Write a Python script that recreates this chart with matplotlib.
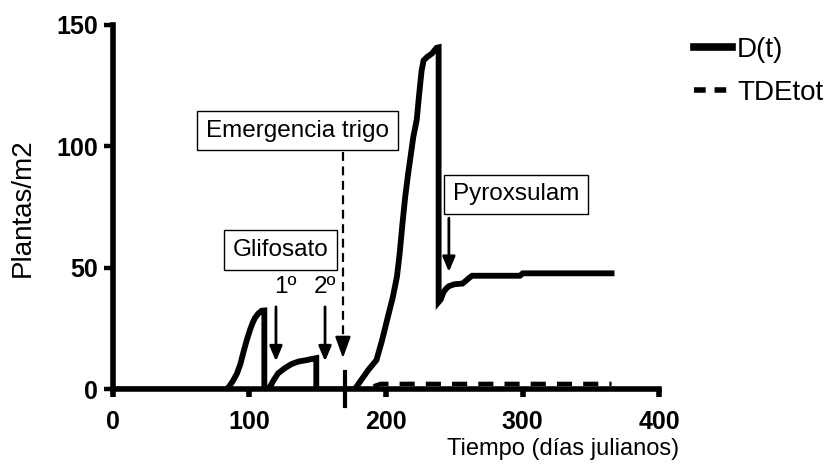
import matplotlib
matplotlib.use('Agg')
import matplotlib.pyplot as plt
from matplotlib.lines import Line2D

plt.rcParams['font.family'] = ['Liberation Sans', 'DejaVu Sans']

# D(t): plantas/m2 over julian days
d_days = [0, 83, 85, 88, 91, 93.5, 95.5, 98, 100.5, 102.5, 104, 106.5, 109, 111, 111,
          114, 115, 118, 121, 126, 131, 136, 142, 146, 149, 149,
          177, 182, 187, 193, 197, 202, 205, 208, 210, 212, 214, 216, 218, 220,
          222.5, 224, 226, 227.5, 230, 233.5, 237, 238.5, 238.5,
          240, 242, 244, 246, 250, 256, 259, 261, 263, 298, 300, 365]
d_vals = [0, 0, 1, 3.5, 6.6, 10.5, 14.9, 20, 24.5, 27.5, 29.3, 31.2, 32.4, 32.5, 0,
          0.3, 1, 4, 6.6, 8.8, 10.5, 11.5, 12.1, 12.6, 12.9, 0,
          0, 4, 8, 12.1, 20, 31.3, 38, 46.4, 56, 68, 79, 88, 96, 104,
          111, 120, 131, 135.4, 136.8, 138.2, 140.6, 140.8, 36,
          37, 40, 41.5, 42.5, 43.3, 43.6, 45, 46, 46.8, 46.8, 47.8, 47.8]

# TDEtot
tde_days = [0, 188, 192, 196, 365]
tde_vals = [0, 0, 1.5, 2.3, 2.3]

# events
emergence_day = 170
gli_days = [119.5, 155.4]
gli_labels = ['1º', '2º']
pyrox_day = 246

x_ticks = [0, 100, 200, 300, 400]
y_ticks = [0, 50, 100, 150]


def main():
    fig = plt.figure(figsize=(8.31, 4.66), dpi=100)
    ax = fig.add_axes([0.1355, 0.1642, 0.658, 0.7822])

    ax.plot(d_days, d_vals, color='black', lw=4.2, solid_joinstyle='miter',
            label='D(t)', zorder=3)
    ax.plot(tde_days, tde_vals, color='black', lw=3.2, dashes=(3.4, 2.5),
            label='TDEtot', zorder=3)

    ax.set_xlim(0, 400)
    ax.set_ylim(0, 150)
    ax.set_xticks(x_ticks)
    ax.set_yticks(y_ticks)
    for s in ['top', 'right']:
        ax.spines[s].set_visible(False)
    for s in ['left', 'bottom']:
        ax.spines[s].set_linewidth(4)
        ax.spines[s].set_capstyle('projecting')
    ax.tick_params(axis='y', length=6.5, width=3.2, pad=4)
    ax.tick_params(axis='x', length=5.5, width=4, pad=9)
    for lab in ax.get_xticklabels() + ax.get_yticklabels():
        lab.set_fontweight('bold')
        lab.set_fontsize(18)

    ax.set_ylabel('Plantas/m2', fontsize=20, va='center')
    ax.yaxis.set_label_coords(-0.164, 0.5)
    ax.set_xlabel('Tiempo (días julianos)', fontsize=17, va='center')
    ax.xaxis.set_label_coords(0.823, -0.163)

    # wheat emergence mark on the axis
    ax.plot([emergence_day, emergence_day], [-7, 7.3], color='black', lw=3,
            clip_on=False, zorder=4)

    box = dict(boxstyle='square,pad=0.36', fc='white', ec='black', lw=1)
    ax.text(135.3, 106.5, 'Emergencia trigo', ha='center', va='center',
            fontsize=17.5, bbox=box)
    ax.text(123, 57.5, 'Glifosato', ha='center', va='center',
            fontsize=17.5, bbox=box)
    ax.text(295, 80.3, 'Pyroxsulam', ha='center', va='center',
            fontsize=17.5, bbox=box)

    # dashed arrow for emergence
    ax.plot([168.5, 168.5], [97.7, 20], color='black', lw=1.6, dashes=(4, 2.5))
    ax.annotate('', xy=(168.5, 12.9), xytext=(168.5, 21),
                arrowprops=dict(arrowstyle='-|>,head_length=1.3,head_width=0.47',
                                lw=1.6, color='black', shrinkA=0, shrinkB=0,
                                mutation_scale=10))

    # glifosato applications
    for day in gli_days:
        ax.annotate('', xy=(day, 11.6), xytext=(day, 34),
                    arrowprops=dict(arrowstyle='-|>,head_length=0.9,head_width=0.38',
                                    lw=2, color='black', shrinkA=0, shrinkB=0,
                                    mutation_scale=10))
    ax.text(126, 42.3, gli_labels[0], ha='center', va='center', fontsize=17.5)
    ax.text(155.4, 42.3, gli_labels[1], ha='center', va='center', fontsize=17.5)

    # pyroxsulam application
    ax.annotate('', xy=(pyrox_day, 48.4), xytext=(pyrox_day, 70.5),
                arrowprops=dict(arrowstyle='-|>,head_length=0.9,head_width=0.38',
                                lw=2, color='black', shrinkA=0, shrinkB=0,
                                mutation_scale=10))

    handles = [Line2D([], [], color='black', lw=5.5),
               Line2D([], [], color='black', lw=4, dashes=(2.1, 1.6))]
    fig.legend(handles, ['D(t)', 'TDEtot'], loc='upper left',
               bbox_to_anchor=(694 / 831, 1 - 37 / 466),
               bbox_transform=fig.transFigure, frameon=False, fontsize=20,
               handlelength=1.35, handletextpad=0.2, labelspacing=0.6,
               borderpad=0, borderaxespad=0)

    fig.savefig('out.png', dpi=100)


if __name__ == '__main__':
    main()
